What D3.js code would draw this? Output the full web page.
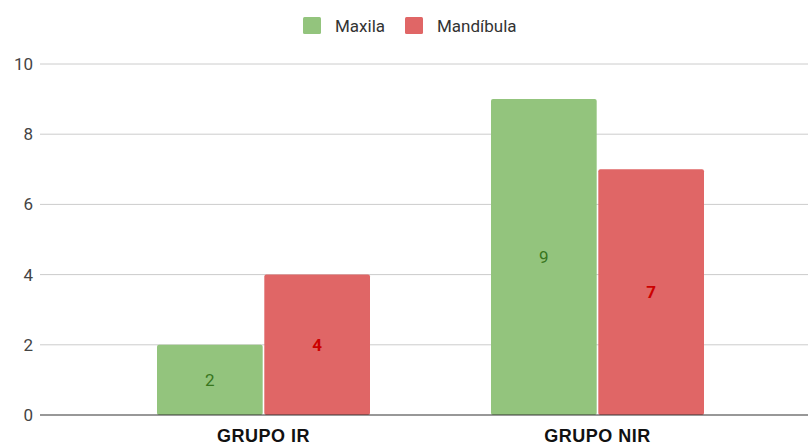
<!DOCTYPE html>
<html>
<head>
<meta charset="utf-8">
<script src="https://cdn.jsdelivr.net/npm/d3@7"></script>
<style>
  html, body { margin: 0; padding: 0; background: #fff; }
  svg { display: block; }
</style>
</head>
<body>
<svg id="chart" width="808" height="445"></svg>
<script>
const categories = ["GRUPO IR", "GRUPO NIR"];
const seriesNames = ["Maxila", "Mandíbula"];
const maxila = [2, 9];
const mandibula = [4, 7];
const yTicks = [0, 2, 4, 6, 8, 10];

const colors = ["#93c47d", "#e06666"];
const labelColors = ["#38761d", "#cc0000"];
const labelWeights = ["normal", "bold"];

const svg = d3.select("#chart");
const plotLeft = 40, plotRight = 808, plotTop = 64, plotBottom = 415;

const x = d3.scaleBand().domain(categories).range([96.5, 764.5]).paddingInner(0).paddingOuter(0);
const x1 = d3.scaleBand().domain(seriesNames).range([0, 213]).paddingInner(0.015);
const groupOffset = (x.bandwidth() - 213) / 2;
const y = d3.scaleLinear().domain([0, 10]).range([plotBottom, plotTop]);

// gridlines
svg.append("g").selectAll("line").data(yTicks.filter(d => d !== 0)).join("line")
  .attr("x1", plotLeft).attr("x2", plotRight)
  .attr("y1", d => y(d)).attr("y2", d => y(d))
  .attr("stroke", "#cccccc").attr("stroke-width", 1);

// y axis labels
const yAxis = d3.axisLeft(y).tickValues(yTicks).tickSize(0).tickPadding(0).tickFormat(d3.format("d"));
const gy = svg.append("g").attr("transform", `translate(33,0)`).call(yAxis);
gy.select(".domain").remove();
gy.selectAll("text").attr("font-family", "Roboto, Arial, sans-serif").attr("font-size", 17)
  .attr("fill", "#444");

const data = categories.map((c, i) => ({cat: c, vals: [maxila[i], mandibula[i]]}));

const groups = svg.append("g").selectAll("g").data(data).join("g")
  .attr("transform", d => `translate(${x(d.cat) + groupOffset},0)`);

groups.selectAll("rect").data(d => d.vals.map((v, j) => ({v, j}))).join("rect")
  .attr("x", d => x1(seriesNames[d.j]))
  .attr("width", x1.bandwidth())
  .attr("y", d => y(d.v))
  .attr("height", d => y(0) - y(d.v))
  .attr("rx", 2).attr("ry", 2)
  .attr("fill", d => colors[d.j]);

groups.selectAll("text.val").data(d => d.vals.map((v, j) => ({v, j}))).join("text")
  .attr("class", "val")
  .attr("x", d => x1(seriesNames[d.j]) + x1.bandwidth() / 2)
  .attr("y", d => (y(d.v) + y(0)) / 2)
  .attr("dy", "0.35em")
  .attr("text-anchor", "middle")
  .attr("font-family", "Roboto, Arial, sans-serif")
  .attr("font-size", 17)
  .attr("font-weight", d => labelWeights[d.j])
  .attr("fill", d => labelColors[d.j])
  .text(d => d.v);

// zero baseline
svg.append("line").attr("x1", plotLeft).attr("x2", plotRight)
  .attr("y1", y(0)).attr("y2", y(0)).attr("stroke", "#333").attr("stroke-width", 1.2);

// x axis labels
const xAxis = d3.axisBottom(x).tickSize(0).tickPadding(0);
const gx = svg.append("g").attr("transform", `translate(0,${plotBottom})`).call(xAxis);
gx.select(".domain").remove();
gx.selectAll("text").attr("font-family", "Liberation Sans, Arial, sans-serif")
  .attr("font-size", 18).attr("font-weight", "bold").attr("fill", "#111")
  .attr("letter-spacing", 0.5)
  .attr("dy", null).attr("y", 27);

// legend
const legend = svg.append("g");
const legendX = [303, 405];
seriesNames.forEach((s, i) => {
  const g = legend.append("g").attr("transform", `translate(${legendX[i]},17)`);
  g.append("rect").attr("width", 18).attr("height", 17).attr("rx", 1.5).attr("fill", colors[i]);
  g.append("text").attr("x", 32).attr("y", 15)
    .attr("font-family", "Roboto, Arial, sans-serif").attr("font-size", 17)
    .attr("fill", "#333").text(s);
});
</script>
</body>
</html>
